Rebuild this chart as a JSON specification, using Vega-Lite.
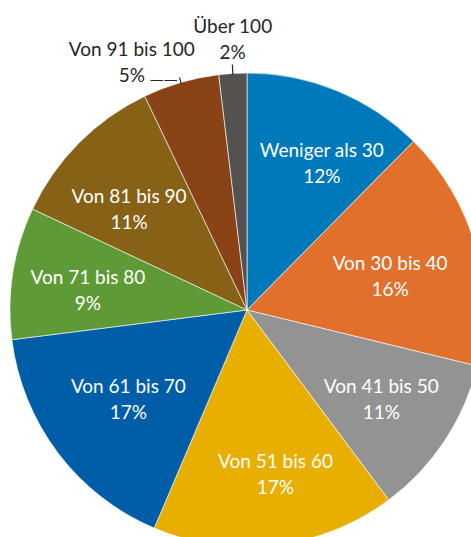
{
  "$schema": "https://vega.github.io/schema/vega-lite/v6.json",
  "width": 494,
  "height": 620,
  "autosize": "none",
  "padding": 0,
  "background": "white",
  "view": {"stroke": null},
  "data": {
    "values": [
      {"ord": 1, "gruppe": "Weniger als 30", "anteil": 0.124},
      {"ord": 2, "gruppe": "Von 30 bis 40", "anteil": 0.164},
      {"ord": 3, "gruppe": "Von 41 bis 50", "anteil": 0.110},
      {"ord": 4, "gruppe": "Von 51 bis 60", "anteil": 0.166},
      {"ord": 5, "gruppe": "Von 61 bis 70", "anteil": 0.166},
      {"ord": 6, "gruppe": "Von 71 bis 80", "anteil": 0.090},
      {"ord": 7, "gruppe": "Von 81 bis 90", "anteil": 0.109},
      {"ord": 8, "gruppe": "Von 91 bis 100", "anteil": 0.052},
      {"ord": 9, "gruppe": "Über 100", "anteil": 0.019}
    ]
  },
  "params": [
    {"name": "offX", "expr": "{'Weniger als 30': 16, 'Von 30 bis 40': -6, 'Von 41 bis 50': 5, 'Von 51 bis 60': 10, 'Von 61 bis 70': 5, 'Von 71 bis 80': -6, 'Von 81 bis 90': -8, 'Von 91 bis 100': -39, 'Über 100': 2}"},
    {"name": "offY", "expr": "{'Weniger als 30': -3, 'Von 30 bis 40': 9, 'Von 41 bis 50': 4, 'Von 51 bis 60': 11, 'Von 61 bis 70': -3, 'Von 71 bis 80': 5, 'Von 81 bis 90': 9, 'Von 91 bis 100': 15, 'Über 100': 3}"}
  ],
  "encoding": {
    "theta": {"field": "anteil", "type": "quantitative", "stack": true, "scale": {"domain": [0, 1]}},
    "order": {"field": "ord", "type": "quantitative"}
  },
  "layer": [
    {
      "mark": {"type": "arc", "outerRadius": 237, "stroke": "#ffffff", "strokeWidth": 0.6},
      "encoding": {
        "color": {
          "field": "gruppe",
          "type": "nominal",
          "legend": null,
          "scale": {
            "domain": ["Weniger als 30", "Von 30 bis 40", "Von 41 bis 50", "Von 51 bis 60", "Von 61 bis 70", "Von 71 bis 80", "Von 81 bis 90", "Von 91 bis 100", "Über 100"],
            "range": ["#0079bb", "#e0702b", "#939393", "#e8ae00", "#005ea8", "#5e9b36", "#876216", "#8a4316", "#545250"]
          }
        }
      }
    },
    {
      "mark": {"type": "arc", "fill": null, "filled": false, "stroke": "#262626", "strokeWidth": 1.2, "padAngle": 1.4,
        "radius": {"expr": "datum.gruppe == 'Über 100' ? 246 : 242"}, "radius2": 236},
      "encoding": {
        "opacity": {"condition": {"test": "datum.anteil < 0.06", "value": 1}, "value": 0}
      }
    },
    {
      "mark": {"type": "text", "text": "\u2014\u2014", "radius": 273, "font": "DejaVu Sans", "fontSize": 14, "fill": "#262626", "baseline": "middle", "align": "center",
        "dx": -7, "dy": 32},
      "encoding": {
        "opacity": {"condition": {"test": "datum.gruppe == 'Von 91 bis 100'", "value": 1}, "value": 0}
      }
    },
    {
      "mark": {"type": "text", "radius": 155, "font": "Lato", "fontSize": 19, "fill": "#ffffff", "baseline": "middle", "align": "center",
        "dx": {"expr": "offX[datum.gruppe]"}, "dy": {"expr": "offY[datum.gruppe] - 13"}},
      "encoding": {
        "text": {"field": "gruppe", "type": "nominal"},
        "opacity": {"condition": {"test": "datum.anteil > 0.06", "value": 1}, "value": 0}
      }
    },
    {
      "mark": {"type": "text", "radius": 155, "font": "Lato", "fontSize": 19, "fill": "#ffffff", "baseline": "middle", "align": "center",
        "dx": {"expr": "offX[datum.gruppe]"}, "dy": {"expr": "offY[datum.gruppe] + 13"}},
      "encoding": {
        "text": {"field": "anteil", "type": "quantitative", "format": ".0%"},
        "opacity": {"condition": {"test": "datum.anteil > 0.06", "value": 1}, "value": 0}
      }
    },
    {
      "mark": {"type": "text", "radius": 273, "font": "Lato", "fontSize": 19, "fill": "#262626", "baseline": "middle", "align": "center",
        "dx": {"expr": "offX[datum.gruppe]"}, "dy": {"expr": "offY[datum.gruppe] - 13"}},
      "encoding": {
        "text": {"field": "gruppe", "type": "nominal"},
        "opacity": {"condition": {"test": "datum.anteil < 0.06", "value": 1}, "value": 0}
      }
    },
    {
      "mark": {"type": "text", "radius": 273, "font": "Lato", "fontSize": 19, "fill": "#262626", "baseline": "middle", "align": "center",
        "dx": {"expr": "offX[datum.gruppe]"}, "dy": {"expr": "offY[datum.gruppe] + 13"}},
      "encoding": {
        "text": {"field": "anteil", "type": "quantitative", "format": ".0%"},
        "opacity": {"condition": {"test": "datum.anteil < 0.06", "value": 1}, "value": 0}
      }
    }
  ]
}
